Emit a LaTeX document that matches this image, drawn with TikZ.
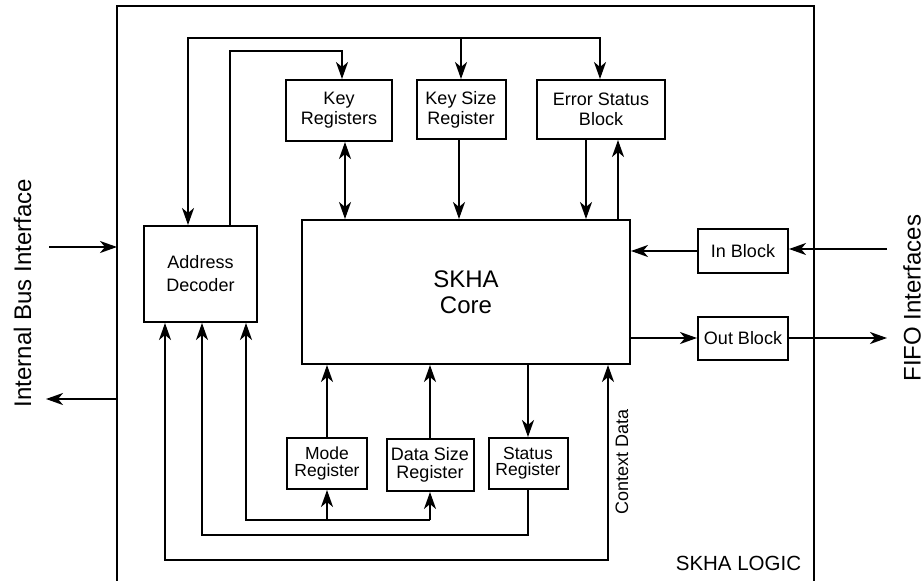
\documentclass[tikz,border=0pt]{standalone}
\usepackage{fontspec}
\setmainfont{Liberation Sans}
\usetikzlibrary{arrows.meta,calc}
\begin{document}
\begin{tikzpicture}[x=1pt,y=-1pt,
  line width=2pt,
  blk/.style={draw, inner sep=0pt, align=center, font=\fontsize{18}{20}\selectfont},
  arr/.style={-{Stealth[length=17pt,width=12pt,inset=5pt]}},
  darr/.style={{Stealth[length=17pt,width=12pt,inset=5pt]}-{Stealth[length=17pt,width=12pt,inset=5pt]}},
  lbl/.style={font=\fontsize{24}{26}\selectfont, inner sep=0pt}
]
\useasboundingbox (0,0) rectangle (924,581);

% frame
\coordinate (fTL) at (117,6);
\coordinate (fTR) at (814,6);
\coordinate (fBL) at (117,581);
\coordinate (fBR) at (814,581);
\draw (fBL) -- (fTL) -- (fTR) -- (fBR);

% blocks
\node[blk, minimum width=113pt, minimum height=96pt, font=\fontsize{18}{23}\selectfont] (adec) at (200.5,274) {Address\\Decoder};
\node[blk, minimum width=328pt, minimum height=144pt, font=\fontsize{24}{26}\selectfont] (core) at (466,292) {SKHA\\Core};
\node[blk, minimum width=106pt, minimum height=61pt] (keyreg) at (339,110.5) {Key\\Registers};
\node[blk, minimum width=89pt, minimum height=59pt] (keysize) at (461,109.5) {Key Size\\Register};
\node[blk, minimum width=128pt, minimum height=59pt] (errstat) at (601,109.5) {Error Status\\Block};
\node[blk, minimum width=90pt, minimum height=44pt] (inblk) at (743,251) {In Block};
\node[blk, minimum width=90pt, minimum height=43pt] (outblk) at (743,338) {Out Block};
\node[blk, minimum width=80pt, minimum height=51pt, font=\fontsize{17.5}{16.5}\selectfont] (modereg) at (327,463.5) {Mode\\Register};
\node[blk, minimum width=87pt, minimum height=52pt, font=\fontsize{18}{18}\selectfont] (dsreg) at (430,465) {Data Size\\Register};
\node[blk, minimum width=79pt, minimum height=51pt, font=\fontsize{17.5}{16}\selectfont] (statreg) at (528,463.5) {Status\\Register};

% side interfaces
\coordinate (ibIn) at (49,247);
\coordinate (ibOut) at (46,399);
\draw[arr] (ibIn) -- (ibIn -| fTL);
\draw[arr] (ibOut -| fTL) -- (ibOut);
\coordinate (fifoIn) at (887,249);
\coordinate (fifoOut) at (887,338);
\draw[arr] (fifoIn) -- (fifoIn -| inblk.east);
\draw[arr] (inblk.west) -- (inblk.west -| core.east);
\draw[arr] (core.east |- outblk.west) -- (outblk.west);
\draw[arr] (outblk.east) -- (outblk.east -| fifoOut);

% top bus
\coordinate (tbL) at (188,38);
\coordinate (tbR) at (600,38);
\draw[arr] (keysize.north |- tbL) -- (tbL) -- (tbL |- adec.north);
\draw[arr] (keysize.north |- tbL) -- (tbR) -- (tbR |- errstat.north);
\draw[arr] (keysize.north |- tbL) -- (keysize.north);

% address decoder to key registers
\coordinate (ak) at (230,51);
\draw[arr] (adec.north -| ak) -- (ak) -| ([xshift=3pt]keyreg.north);

% top registers to core
\draw[darr] ([xshift=6pt]keyreg.south) -- ([xshift=6pt]keyreg.south |- core.north);
\draw[arr] ([xshift=-2pt]keysize.south) -- ([xshift=-2pt]keysize.south |- core.north);
\draw[arr] ([xshift=-15pt]errstat.south) -- ([xshift=-15pt]errstat.south |- core.north);
\draw[arr] ([xshift=17pt]errstat.south |- core.north) -- ([xshift=17pt]errstat.south);

% bottom registers and core
\draw[arr] (modereg.north) -- (modereg.north |- core.south);
\draw[arr] (dsreg.north) -- (dsreg.north |- core.south);
\draw[arr] (statreg.north |- core.south) -- (statreg.north);

% bottom buses
\coordinate (b1L) at (246,520);
\coordinate (b1R) at (430,520);
\draw[arr] (b1R) -- (b1L) -- (b1L |- adec.south);
\draw[arr] (modereg.south |- b1L) -- (modereg.south);
\draw[arr] (b1R) -- (b1R |- dsreg.south);

\coordinate (b2) at (202,535);
\draw[arr] (statreg.south) |- (b2) -- (b2 |- adec.south);

\coordinate (b3L) at (165,560);
\coordinate (b3R) at (608,560);
\draw[darr] (b3L |- adec.south) -- (b3L) -- (b3R) -- (b3R |- core.south);

% labels
\node[rotate=90, font=\fontsize{18}{20}\selectfont, inner sep=0pt] (ctx) at (622,461.5) {Context Data};
\node[lbl, rotate=90] (ibl) at (22.5,293) {Internal Bus Interface};
\node[lbl, rotate=90] (fifol) at (912,298) {FIFO Interfaces};
\node[font=\fontsize{20.5}{22}\selectfont, inner sep=0pt] (logic) at (738.5,563) {SKHA LOGIC};
\end{tikzpicture}
\end{document}
